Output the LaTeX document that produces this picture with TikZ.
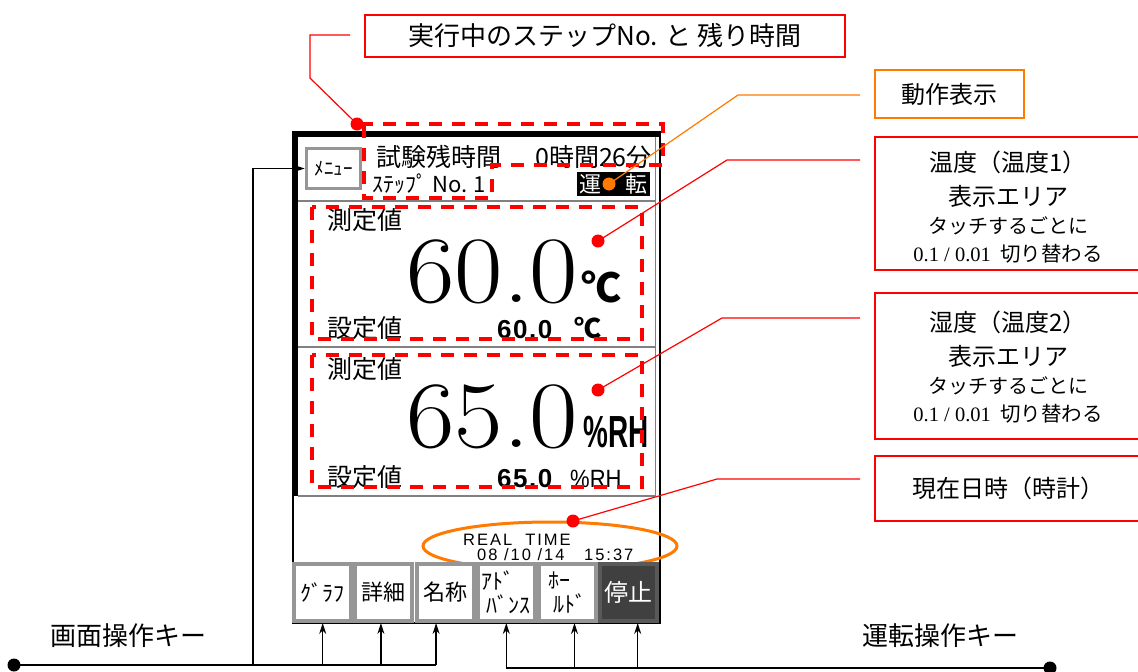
\documentclass[tikz,border=0pt]{standalone}
\usepackage{fontspec}
\usetikzlibrary{positioning, arrows.meta}
\newfontfamily\jp{Noto Sans CJK JP}
\newfontfamily\arial{Liberation Sans}
\newfontfamily\lcd{Liberation Sans}[LetterSpace=12]
\newfontfamily\tnr{Liberation Serif}
\definecolor{calloutorange}{RGB}{255,122,0}
\definecolor{keygray}{RGB}{150,150,150}
\definecolor{stopgray}{RGB}{64,64,64}

\begin{document}
\begin{tikzpicture}[x=1pt, y=-1pt, >={Stealth[length=11pt, width=7pt]},
  dot/.style={circle, fill, inner sep=0pt, minimum size=13pt},
  callout/.style={draw=red, line width=1.3pt, fill=white, align=center, inner sep=0pt},
  area/.style={red, line width=4pt, dash pattern=on 13pt off 10pt},
  leader/.style={red, line width=1.2pt},
  key/.style={draw=keygray, line width=4pt, fill=white, minimum width=57pt, minimum height=57pt,
    inner sep=0pt, font=\jp\fontsize{22}{24}\selectfont, align=left},
  jptext/.style={inner sep=0pt, font=\jp\fontsize{25}{25}\selectfont},
  bignum/.style={anchor=base east, inner sep=0pt, font=\fontsize{95}{95}\selectfont},
  setnum/.style={anchor=base west, inner sep=0pt, font=\arial\bfseries\fontsize{26}{26}\selectfont\addfontfeatures{LetterSpace=6}}]
\useasboundingbox (0,0) rectangle (1138,672);
\clip (0,0) rectangle (1138,672);

% panel frame
\fill (292,131) rectangle (660,137);
\fill (292,131) rectangle (298,496);
\draw [line width=1.3pt] (293,496) -- (293,623) -- (660,623) -- (660,131);
\draw [gray, line width=1pt] (655,137) -- (655,496);
\foreach \y in {201, 347, 496}
  \draw [gray, line width=1.2pt] (298,\y) -- (655,\y);

% header
\node [key, line width=3.5pt, minimum width=54pt, minimum height=40pt, font=\jp\fontsize{19}{19}\selectfont]
  (menu) at (333.5,168.5) {ﾒﾆｭｰ};
\node [jptext, anchor=west] (rest-label) at (376,157) {試験残時間};
\node [jptext, anchor=east] (rest-time) at (652,157) {0時間26分};
\node [jptext, anchor=west, font=\jp\fontsize{22}{22}\selectfont] (step-no) at (372,184) {ｽﾃｯﾌﾟ No. 1};
\node [fill=black, text=white, minimum width=73pt, minimum height=24pt, inner sep=0pt,
  font=\jp\fontsize{22}{22}\selectfont] (run-state) at (613.5,184) {運\hspace{24pt}転};

% temperature
\node [jptext, anchor=west] (temp-pv-label) at (327,220) {測定値};
\node [bignum] (temp-pv) at (578,302) {\scalebox{1.11}[1]{60.0}};
\node [anchor=base west, inner sep=0pt, font=\jp\bfseries\fontsize{40}{40}\selectfont] (temp-pv-unit) at (581,302) {℃};
\node [jptext, anchor=west] (temp-sv-label) at (327,328) {設定値};
\node [setnum] (temp-sv) at (497,338) {60.0};
\node [anchor=base west, inner sep=0pt, font=\jp\bfseries\fontsize{27}{27}\selectfont] (temp-sv-unit) at (574,338) {℃};

% humidity
\node [jptext, anchor=west] (humid-pv-label) at (327,369) {測定値};
\node [bignum] (humid-pv) at (578,447) {\scalebox{1.11}[1]{65.0}};
\node [anchor=base west, inner sep=0pt, font=\arial\bfseries\fontsize{45}{45}\selectfont] (humid-pv-unit) at (583,447) {\scalebox{0.62}[1]{\%RH}};
\node [jptext, anchor=west] (humid-sv-label) at (327,477) {設定値};
\node [setnum] (humid-sv) at (497,487) {65.0};
\node [anchor=base west, inner sep=0pt, font=\arial\fontsize{25}{25}\selectfont] (humid-sv-unit) at (570,487) {\scalebox{0.88}[1]{\%RH}};

% clock
\node [anchor=base west, inner sep=0pt, font=\lcd\fontsize{16.5}{16.5}\selectfont] (clock-title) at (463,545) {REAL\ \ TIME};
\node [anchor=base west, inner sep=0pt, font=\lcd\fontsize{16.5}{16.5}\selectfont] (clock-value) at (477,560) {08 /10 /14\ \ \ 15:37};
\draw [calloutorange, line width=3pt] (550,546) ellipse [x radius=127, y radius=24];

% keys
\foreach \l [count=\i] in {ｸﾞﾗﾌ, 詳細, 名称, {ｱﾄﾞ\\ \ ﾊﾞﾝｽ}, {ﾎｰ\\ \ ﾙﾄﾞ}}
  \node [key] (key-\i) at (261.5+\i*61.2,592.5) {\l};
\node [key, fill=stopgray, draw=gray!70!black, text=white, font=\jp\fontsize{24}{24}\selectfont]
  (key-6) at (628.7,592.5) {停止};

% marked areas
\draw [area] (360,124) -- (663,124) -- (663,165) -- (492,165) -- (492,198) -- (364,198) -- (364,124);
\draw [area] (312,207) rectangle (642,339);
\draw [area] (312,355) rectangle (642,487);

% callouts
\node [callout, minimum width=480pt, minimum height=42pt, font=\jp\fontsize{26}{26}\selectfont]
  (step-box) at (605,36) {実行中のステップNo. と 残り時間};
\node [callout, draw=calloutorange, minimum width=149pt, minimum height=48pt, font=\jp\fontsize{24}{24}\selectfont]
  (act-box) at (949.5,94) {動作表示};
\node [callout, minimum width=267pt, minimum height=133pt] (temp-box) at (1008.5,203.5) {};
\node [callout, minimum width=267pt, minimum height=146pt] (humid-box) at (1008.5,366) {};
\node [callout, minimum width=267pt, minimum height=65pt, font=\jp\fontsize{24}{24}\selectfont]
  (clock-box) at (1008.5,488.5) {現在日時（時計）};

\foreach \zone/\first/\y in {temp/温度（温度1）/162, humid/湿度（温度2）/322} {
  \node [jptext, font=\jp\fontsize{24}{24}\selectfont] (\zone-title) at (1008,\y) {\first};
  \node [jptext, font=\jp\fontsize{24}{24}\selectfont] (\zone-area) at (1008,\y+34) {表示エリア};
  \node [jptext, font=\jp\fontsize{20}{20}\selectfont] (\zone-touch) at (1008,\y+64) {タッチするごとに};
  \node [jptext, font=\jp\fontsize{20.5}{20.5}\selectfont] (\zone-switch) at (1008,\y+92)
    {{\tnr 0.1 / 0.01}\ \ 切り替わる};
}

\coordinate (step-end) at (350,35);
\coordinate (act-end) at (860,95);
\coordinate (temp-end) at (860,160);
\coordinate (humid-end) at (860,318);
\coordinate (clock-end) at (860,479);

\node [dot, red] (dot-step) at (357,124) {};
\node [dot, calloutorange] (dot-act) at (609,184) {};
\node [dot, red] (dot-temp) at (598,241) {};
\node [dot, red] (dot-humid) at (598,390) {};
\node [dot, red] (dot-clock) at (573,521) {};

\draw [leader] (dot-step.center) -- (310,78) -- (310,35) -- (step-end);
\draw [leader, calloutorange] (dot-act.center) -- (738,95) -- (act-end);
\draw [leader] (dot-temp.center) -- (727,160) -- (temp-end);
\draw [leader] (dot-humid.center) -- (722,318) -- (humid-end);
\draw [leader] (dot-clock.center) -- (717,479) -- (clock-end);

% key lines
\node [dot] (bus-left) at (14,665) {};
\node [dot] (bus-right) at (1050,668) {};
\coordinate (menu-drop) at (253,665);
\draw [line width=1.3pt] (bus-left.center) -- ([xshift=-9pt]key-3.south |- bus-left.center);
\draw [->, line width=1.3pt] (menu-drop) |- (menu.west);
\foreach \i/\dx in {1/0, 2/-3, 3/-9}
  \draw [->, line width=1.3pt] ([xshift=\dx pt]key-\i.south |- bus-left.center) -- ([xshift=\dx pt]key-\i.south);
\draw [line width=1.3pt] (key-4.south |- bus-right.center) -- (bus-right.center);
\foreach \i/\dx in {4/0, 5/7, 6/9}
  \draw [->, line width=1.3pt] ([xshift=\dx pt]key-\i.south |- bus-right.center) -- ([xshift=\dx pt]key-\i.south);

\node [jptext, font=\jp\fontsize{26}{26}\selectfont] (screen-keys) at (128,636) {画面操作キー};
\node [jptext, font=\jp\fontsize{26}{26}\selectfont] (run-keys) at (940,636) {運転操作キー};
\end{tikzpicture}
\end{document}
